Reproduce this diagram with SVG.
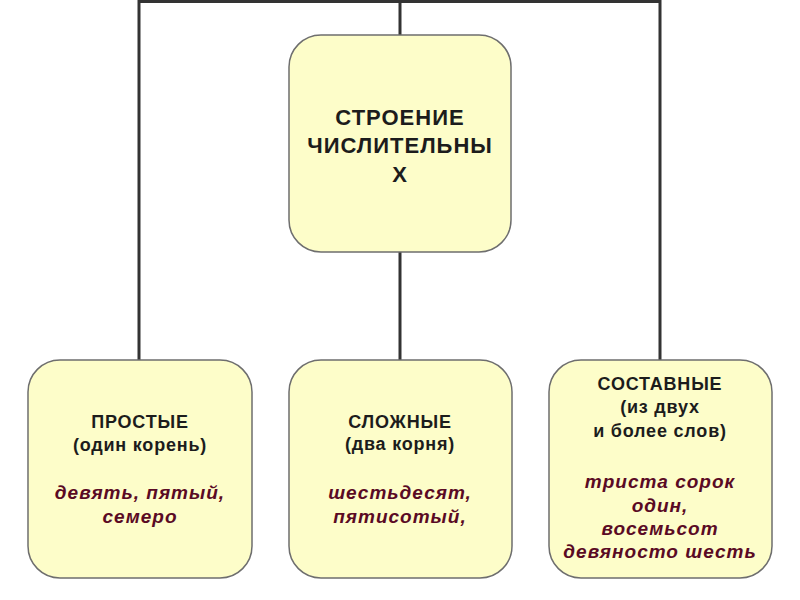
<svg xmlns="http://www.w3.org/2000/svg" width="800" height="600" viewBox="0 0 800 600">
<style>
.box{fill:#fdfdc9;stroke:#6e6e6e;stroke-width:1.5}
.conn{fill:none;stroke:#333;stroke-width:3}
.t{font-family:"Liberation Sans",Arial,sans-serif;font-weight:bold;text-anchor:middle;fill:#1c1c1c}
.h{font-size:22px;letter-spacing:1px}
.s{font-size:18px;letter-spacing:0.8px}
.ex{font-size:19px;font-style:italic;fill:#5a0a24;letter-spacing:1px}
</style>
<rect width="800" height="600" fill="#fff"/>
<g id="connectors">
<path class="conn" d="M139,360 V1.5 H660 V360"/>
<path class="conn" d="M400,1.5 V35"/>
<path class="conn" d="M400,252 V360"/>
</g>
<g id="root">
<rect class="box" x="289" y="35" width="222" height="217" rx="32"/>
<text class="t h" x="400" y="125">СТРОЕНИЕ</text>
<text class="t h" x="400" y="153">ЧИСЛИТЕЛЬНЫ</text>
<text class="t h" x="400" y="182">Х</text>
</g>
<g id="simple">
<rect class="box" x="28" y="360" width="224" height="218" rx="32"/>
<text class="t s" x="140" y="428">ПРОСТЫЕ</text>
<text class="t s" x="140" y="451">(один корень)</text>
<text class="t ex" x="140" y="499">девять, пятый,</text>
<text class="t ex" x="140" y="523">семеро</text>
</g>
<g id="complex">
<rect class="box" x="289" y="360" width="223" height="218" rx="32"/>
<text class="t s" x="400" y="428">СЛОЖНЫЕ</text>
<text class="t s" x="400" y="450">(два корня)</text>
<text class="t ex" x="400" y="499">шестьдесят,</text>
<text class="t ex" x="400" y="523">пятисотый,</text>
</g>
<g id="compound">
<rect class="box" x="549" y="360" width="223" height="218" rx="32"/>
<text class="t s" x="660" y="390">СОСТАВНЫЕ</text>
<text class="t s" x="660" y="413">(из двух</text>
<text class="t s" x="660" y="437">и более слов)</text>
<text class="t ex" x="660" y="488">триста сорок</text>
<text class="t ex" x="660" y="512">один,</text>
<text class="t ex" x="660" y="535">восемьсот</text>
<text class="t ex" x="660" y="558">девяносто шесть</text>
</g>
</svg>
